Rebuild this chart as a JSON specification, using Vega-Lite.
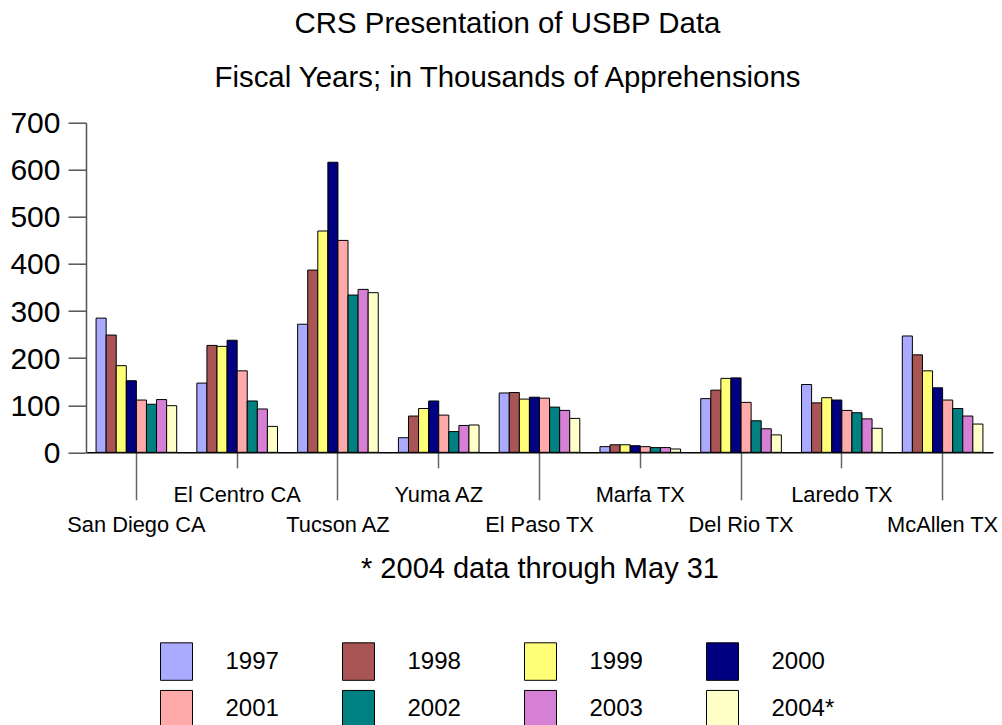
{
  "$schema": "https://vega.github.io/schema/vega-lite/v6.json",
  "width": 907,
  "height": 329.6,
  "autosize": {"type": "none"},
  "padding": {"left": 86, "top": 122.7, "right": 9, "bottom": 272.7},
  "background": "white",
  "config": {"view": {"stroke": null}, "font": "Liberation Sans"},
  "title": {
    "text": ["CRS Presentation of USBP Data", "Fiscal Years; in Thousands of Apprehensions"],
    "font": "Liberation Sans",
    "fontSize": 29.4,
    "fontWeight": "normal",
    "color": "black",
    "lineHeight": 54,
    "offset": 15,
    "dx": -32,
    "anchor": "middle"
  },
  "data": {
    "values": [
      {"sector": "San Diego CA", "year": "1997", "value": 285},
      {"sector": "San Diego CA", "year": "1998", "value": 249},
      {"sector": "San Diego CA", "year": "1999", "value": 184},
      {"sector": "San Diego CA", "year": "2000", "value": 152},
      {"sector": "San Diego CA", "year": "2001", "value": 111},
      {"sector": "San Diego CA", "year": "2002", "value": 102},
      {"sector": "San Diego CA", "year": "2003", "value": 112},
      {"sector": "San Diego CA", "year": "2004*", "value": 99},
      {"sector": "El Centro CA", "year": "1997", "value": 147},
      {"sector": "El Centro CA", "year": "1998", "value": 227},
      {"sector": "El Centro CA", "year": "1999", "value": 225},
      {"sector": "El Centro CA", "year": "2000", "value": 238},
      {"sector": "El Centro CA", "year": "2001", "value": 173},
      {"sector": "El Centro CA", "year": "2002", "value": 109},
      {"sector": "El Centro CA", "year": "2003", "value": 92},
      {"sector": "El Centro CA", "year": "2004*", "value": 55},
      {"sector": "Tucson AZ", "year": "1997", "value": 272},
      {"sector": "Tucson AZ", "year": "1998", "value": 387},
      {"sector": "Tucson AZ", "year": "1999", "value": 470},
      {"sector": "Tucson AZ", "year": "2000", "value": 616},
      {"sector": "Tucson AZ", "year": "2001", "value": 450},
      {"sector": "Tucson AZ", "year": "2002", "value": 334},
      {"sector": "Tucson AZ", "year": "2003", "value": 346},
      {"sector": "Tucson AZ", "year": "2004*", "value": 339},
      {"sector": "Yuma AZ", "year": "1997", "value": 31},
      {"sector": "Yuma AZ", "year": "1998", "value": 77},
      {"sector": "Yuma AZ", "year": "1999", "value": 93},
      {"sector": "Yuma AZ", "year": "2000", "value": 109},
      {"sector": "Yuma AZ", "year": "2001", "value": 79},
      {"sector": "Yuma AZ", "year": "2002", "value": 44},
      {"sector": "Yuma AZ", "year": "2003", "value": 57},
      {"sector": "Yuma AZ", "year": "2004*", "value": 58},
      {"sector": "El Paso TX", "year": "1997", "value": 126},
      {"sector": "El Paso TX", "year": "1998", "value": 127},
      {"sector": "El Paso TX", "year": "1999", "value": 113},
      {"sector": "El Paso TX", "year": "2000", "value": 117},
      {"sector": "El Paso TX", "year": "2001", "value": 115},
      {"sector": "El Paso TX", "year": "2002", "value": 96},
      {"sector": "El Paso TX", "year": "2003", "value": 89},
      {"sector": "El Paso TX", "year": "2004*", "value": 72},
      {"sector": "Marfa TX", "year": "1997", "value": 12},
      {"sector": "Marfa TX", "year": "1998", "value": 16},
      {"sector": "Marfa TX", "year": "1999", "value": 16},
      {"sector": "Marfa TX", "year": "2000", "value": 14},
      {"sector": "Marfa TX", "year": "2001", "value": 12},
      {"sector": "Marfa TX", "year": "2002", "value": 10},
      {"sector": "Marfa TX", "year": "2003", "value": 10},
      {"sector": "Marfa TX", "year": "2004*", "value": 7},
      {"sector": "Del Rio TX", "year": "1997", "value": 114},
      {"sector": "Del Rio TX", "year": "1998", "value": 132},
      {"sector": "Del Rio TX", "year": "1999", "value": 157},
      {"sector": "Del Rio TX", "year": "2000", "value": 158},
      {"sector": "Del Rio TX", "year": "2001", "value": 106},
      {"sector": "Del Rio TX", "year": "2002", "value": 67},
      {"sector": "Del Rio TX", "year": "2003", "value": 50},
      {"sector": "Del Rio TX", "year": "2004*", "value": 37},
      {"sector": "Laredo TX", "year": "1997", "value": 144},
      {"sector": "Laredo TX", "year": "1998", "value": 105},
      {"sector": "Laredo TX", "year": "1999", "value": 116},
      {"sector": "Laredo TX", "year": "2000", "value": 111},
      {"sector": "Laredo TX", "year": "2001", "value": 89},
      {"sector": "Laredo TX", "year": "2002", "value": 84},
      {"sector": "Laredo TX", "year": "2003", "value": 71},
      {"sector": "Laredo TX", "year": "2004*", "value": 51},
      {"sector": "McAllen TX", "year": "1997", "value": 247},
      {"sector": "McAllen TX", "year": "1998", "value": 207},
      {"sector": "McAllen TX", "year": "1999", "value": 173},
      {"sector": "McAllen TX", "year": "2000", "value": 137},
      {"sector": "McAllen TX", "year": "2001", "value": 111},
      {"sector": "McAllen TX", "year": "2002", "value": 93},
      {"sector": "McAllen TX", "year": "2003", "value": 77},
      {"sector": "McAllen TX", "year": "2004*", "value": 60}
    ]
  },
  "mark": {"type": "bar", "stroke": "black", "strokeWidth": 1},
  "encoding": {
    "x": {
      "field": "sector",
      "type": "nominal",
      "sort": null,
      "scale": {"paddingInner": 0.2, "paddingOuter": 0.1},
      "title": "* 2004 data through May 31",
      "axis": {
        "labelAngle": 0,
        "labelFont": "Liberation Sans",
        "labelFontSize": 21.8,
        "labelColor": "black",
        "labelOverlap": false,
        "labelLimit": 0,
        "domainColor": "black",
        "domainWidth": 1.5,
        "tickColor": "#666666",
        "tickWidth": 1.5,
        "tickSize": {
          "condition": {"test": "indexof(['El Centro CA','Yuma AZ','Marfa TX','Laredo TX'], datum.value) >= 0", "value": 15.5},
          "value": 47.5
        },
        "labelPadding": {
          "condition": {"test": "indexof(['El Centro CA','Yuma AZ','Marfa TX','Laredo TX'], datum.value) >= 0", "value": 17},
          "value": 15
        },
        "titleFont": "Liberation Sans",
        "titleFontSize": 29,
        "titleFontWeight": "normal",
        "titleColor": "black",
        "titleY": 102
      }
    },
    "xOffset": {
      "field": "year",
      "type": "nominal",
      "scale": {"paddingInner": 0, "paddingOuter": 0}
    },
    "y": {
      "field": "value",
      "type": "quantitative",
      "scale": {"domain": [0, 700], "nice": false},
      "title": null,
      "axis": {
        "values": [0, 100, 200, 300, 400, 500, 600, 700],
        "grid": false,
        "tickSize": 18,
        "tickWidth": 1.5,
        "tickColor": "#555555",
        "domainColor": "#555555",
        "domainWidth": 1.5,
        "labelFont": "Liberation Sans",
        "labelFontSize": 30,
        "labelColor": "black",
        "labelPadding": 8,
        "labelOffset": 1
      }
    },
    "color": {
      "field": "year",
      "type": "nominal",
      "scale": {
        "domain": ["1997", "1998", "1999", "2000", "2001", "2002", "2003", "2004*"],
        "range": ["#AAAAFF", "#AA5555", "#FFFF77", "#000080", "#FFAAAA", "#008080", "#D580D5", "#FFFFC8"]
      },
      "legend": {
        "orient": "none",
        "legendX": 71,
        "legendY": 519,
        "direction": "horizontal",
        "columns": 4,
        "title": null,
        "padding": 0,
        "symbolType": "M-0.853,-1H0.853V1H-0.853Z",
        "symbolSize": 1406,
        "symbolStrokeColor": "black",
        "symbolStrokeWidth": 1,
        "symbolOpacity": 1,
        "labelFont": "Liberation Sans",
        "labelFontSize": 24,
        "labelColor": "black",
        "labelOffset": 29.5,
        "labelLimit": 0,
        "columnPadding": 60,
        "rowPadding": 5
      }
    }
  }
}
